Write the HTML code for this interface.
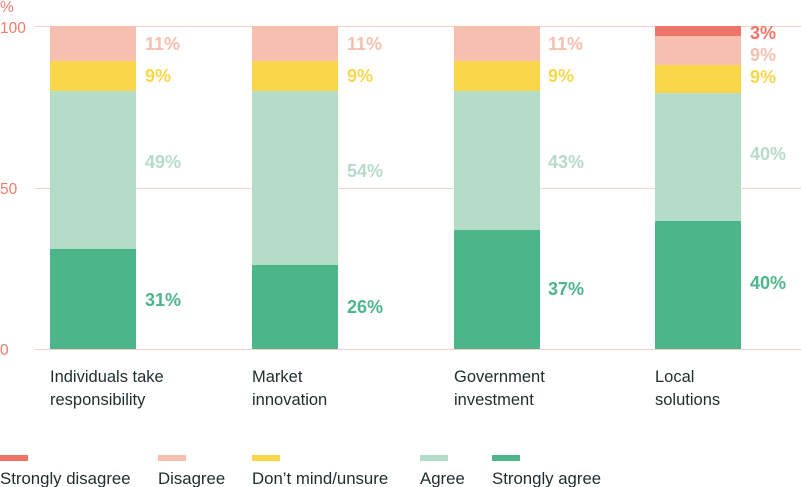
<!DOCTYPE html>
<html><head><style>
body{margin:0;background:#fff;}
svg{display:block;font-family:"Liberation Sans",sans-serif;}
</style></head><body>
<svg width="801" height="487" xmlns="http://www.w3.org/2000/svg">
<g stroke="#f7d0c8" stroke-width="1">
<line x1="35" y1="26.5" x2="801" y2="26.5"/>
<line x1="35" y1="188.5" x2="801" y2="188.5"/>
<line x1="35" y1="349.5" x2="801" y2="349.5"/>
</g>
<g fill="#ee7d6e" font-size="15.5">
<text x="0" y="12">%</text>
<text x="0" y="33">100</text>
<text x="0" y="194">50</text>
<text x="0" y="355">0</text>
</g>
<rect x="50" y="249" width="86" height="100" fill="#4cb58a"/>
<rect x="50" y="91" width="86" height="158" fill="#b5dcc8"/>
<rect x="50" y="61" width="86" height="30" fill="#fad64b"/>
<rect x="50" y="26" width="86" height="35" fill="#f7bfb0"/>
<rect x="252" y="265" width="86" height="84" fill="#4cb58a"/>
<rect x="252" y="91" width="86" height="174" fill="#b5dcc8"/>
<rect x="252" y="61" width="86" height="30" fill="#fad64b"/>
<rect x="252" y="26" width="86" height="35" fill="#f7bfb0"/>
<rect x="454" y="230" width="86" height="119" fill="#4cb58a"/>
<rect x="454" y="91" width="86" height="139" fill="#b5dcc8"/>
<rect x="454" y="61" width="86" height="30" fill="#fad64b"/>
<rect x="454" y="26" width="86" height="35" fill="#f7bfb0"/>
<rect x="655" y="221" width="86" height="128" fill="#4cb58a"/>
<rect x="655" y="93" width="86" height="128" fill="#b5dcc8"/>
<rect x="655" y="65" width="86" height="28" fill="#fad64b"/>
<rect x="655" y="36" width="86" height="29" fill="#f7bfb0"/>
<rect x="655" y="26" width="86" height="10" fill="#ef7367"/>
<g font-size="18" font-weight="bold">
<text x="145" y="50" fill="#f7bfb0">11%</text>
<text x="145" y="82" fill="#fad64b">9%</text>
<text x="145" y="168" fill="#b5dcc8">49%</text>
<text x="145" y="306" fill="#4cb58a">31%</text>
<text x="347" y="50" fill="#f7bfb0">11%</text>
<text x="347" y="82" fill="#fad64b">9%</text>
<text x="347" y="177" fill="#b5dcc8">54%</text>
<text x="347" y="313" fill="#4cb58a">26%</text>
<text x="548" y="50" fill="#f7bfb0">11%</text>
<text x="548" y="82" fill="#fad64b">9%</text>
<text x="548" y="168" fill="#b5dcc8">43%</text>
<text x="548" y="295" fill="#4cb58a">37%</text>
<text x="750" y="39" fill="#ef7367">3%</text>
<text x="750" y="61" fill="#f7bfb0">9%</text>
<text x="750" y="83" fill="#fad64b">9%</text>
<text x="750" y="160" fill="#b5dcc8">40%</text>
<text x="750" y="289" fill="#4cb58a">40%</text>
</g>
<g font-size="16.5" fill="#1f2d2d">
<text x="50" y="382">Individuals take</text>
<text x="50" y="405">responsibility</text>
<text x="252" y="382">Market</text>
<text x="252" y="405">innovation</text>
<text x="454" y="382">Government</text>
<text x="454" y="405">investment</text>
<text x="655" y="382">Local</text>
<text x="655" y="405">solutions</text>
</g>
<rect x="0" y="455" width="28" height="6" fill="#ef7367"/>
<rect x="158" y="455" width="28" height="6" fill="#f7bfb0"/>
<rect x="252" y="455" width="28" height="6" fill="#fad64b"/>
<rect x="420" y="455" width="28" height="6" fill="#b5dcc8"/>
<rect x="492" y="455" width="28" height="6" fill="#4cb58a"/>
<g font-size="16.8" fill="#1f2d2d">
<text x="0" y="484">Strongly disagree</text>
<text x="158" y="484">Disagree</text>
<text x="252" y="484">Don’t mind/unsure</text>
<text x="420" y="484">Agree</text>
<text x="492" y="484">Strongly agree</text>
</g>
</svg>
</body></html>
